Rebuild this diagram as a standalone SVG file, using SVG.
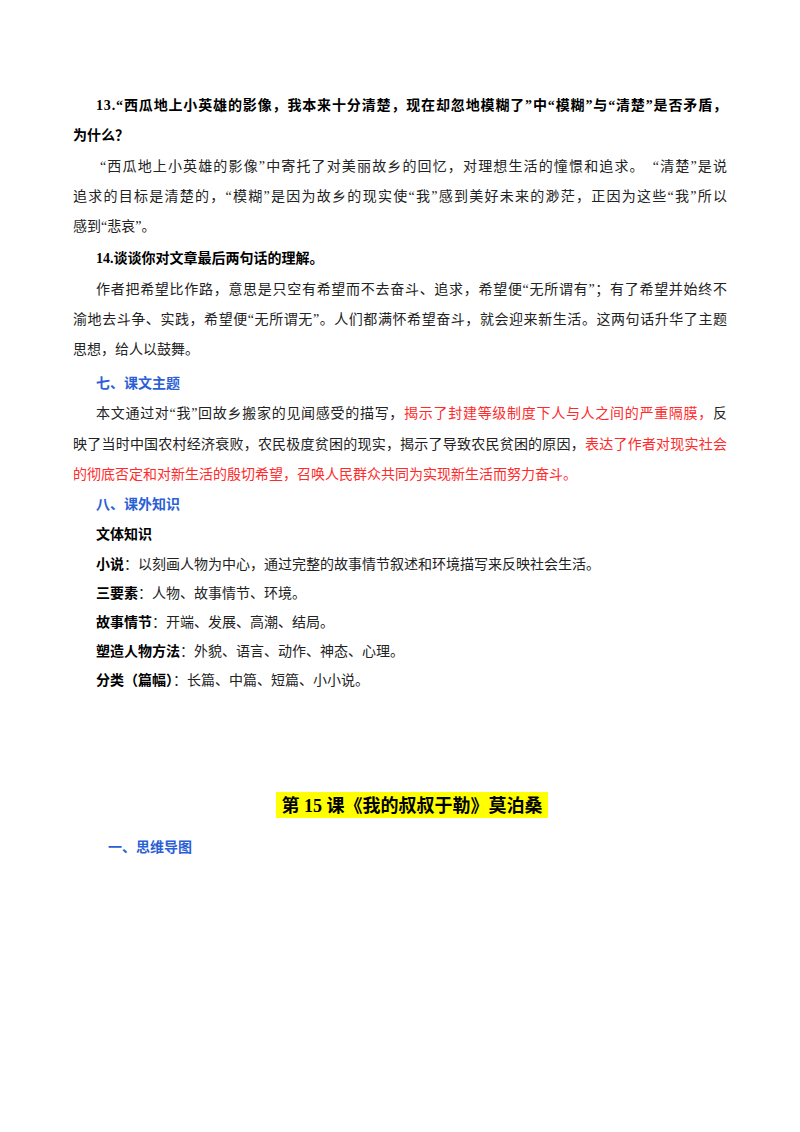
<svg xmlns="http://www.w3.org/2000/svg" width="800" height="1132" viewBox="0 0 800 1132">
<style>
text{font-family:"Liberation Serif","Noto Sans CJK SC",serif;font-size:14px;fill:#222}
.b{font-weight:bold;fill:#000}
.bl{font-weight:bold;fill:#2a5fd6}
.r{fill:#ff2a2a}
</style>
<rect width="800" height="1132" fill="#fff"/>
<text class="b" x="96" y="110" textLength="631" lengthAdjust="spacing">13.“西瓜地上小英雄的影像，我本来十分清楚，现在却忽地模糊了”中“模糊”与“清楚”是否矛盾，</text>
<text class="b" x="73" y="140">为什么？</text>
<text x="100" y="171" textLength="627" lengthAdjust="spacing">“西瓜地上小英雄的影像”中寄托了对美丽故乡的回忆，对理想生活的憧憬和追求。　“清楚”是说</text>
<text x="73" y="201" textLength="654" lengthAdjust="spacing">追求的目标是清楚的，“模糊”是因为故乡的现实使“我”感到美好未来的渺茫，正因为这些“我”所以</text>
<text x="73" y="231">感到“悲哀”。</text>
<text class="b" x="96" y="263">14.谈谈你对文章最后两句话的理解。</text>
<text x="96" y="294" textLength="631" lengthAdjust="spacing">作者把希望比作路，意思是只空有希望而不去奋斗、追求，希望便“无所谓有”；有了希望并始终不</text>
<text x="73" y="324" textLength="654" lengthAdjust="spacing">渝地去斗争、实践，希望便“无所谓无”。人们都满怀希望奋斗，就会迎来新生活。这两句话升华了主题</text>
<text x="73" y="354">思想，给人以鼓舞。</text>
<text class="bl" x="96" y="388">七、课文主题</text>
<text x="96" y="418" textLength="631" lengthAdjust="spacing">本文通过对“我”回故乡搬家的见闻感受的描写，<tspan class="r">揭示了封建等级制度下人与人之间的严重隔膜，</tspan>反</text>
<text x="73" y="449" textLength="654" lengthAdjust="spacing">映了当时中国农村经济衰败，农民极度贫困的现实，揭示了导致农民贫困的原因，<tspan class="r">表达了作者对现实社会</tspan></text>
<text x="73" y="479" class="r">的彻底否定和对新生活的殷切希望，召唤人民群众共同为实现新生活而努力奋斗。</text>
<text class="bl" x="96" y="509">八、课外知识</text>
<text class="b" x="96" y="539">文体知识</text>
<text x="96" y="569"><tspan class="b">小说</tspan>：以刻画人物为中心，通过完整的故事情节叙述和环境描写来反映社会生活。</text>
<text x="96" y="598"><tspan class="b">三要素</tspan>：人物、故事情节、环境。</text>
<text x="96" y="627"><tspan class="b">故事情节</tspan>：开端、发展、高潮、结局。</text>
<text x="96" y="656"><tspan class="b">塑造人物方法</tspan>：外貌、语言、动作、神态、心理。</text>
<text x="96" y="685"><tspan class="b">分类（篇幅）</tspan>：长篇、中篇、短篇、小小说。</text>
<rect x="276" y="792" width="272" height="26" fill="#ffff00"/>
<text class="b" x="412" y="812" text-anchor="middle" style="font-size:18px">第 15 课《我的叔叔于勒》莫泊桑</text>
<text class="bl" x="108" y="852">一、思维导图</text>
</svg>
